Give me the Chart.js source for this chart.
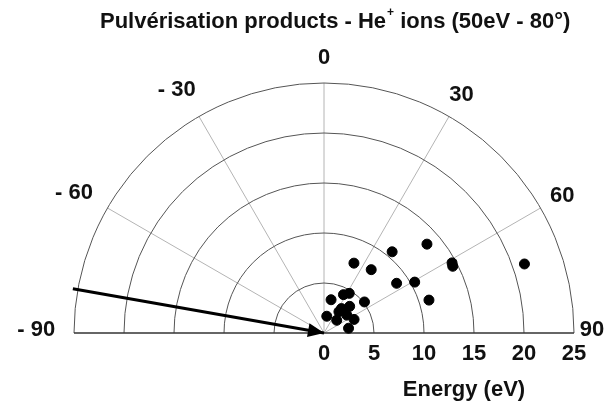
<!DOCTYPE html>
<html lang="fr">
<head>
  <meta charset="UTF-8">
  <title>Pulvérisation products</title>
  <script src="https://cdn.jsdelivr.net/npm/chart.js"></script>
  <style>
    html, body { margin: 0; padding: 0; background: #fff; }
    .chart-box { width: 608px; height: 405px; }
  </style>
</head>
<body>
  <div class="chart-box">
    <canvas id="polarChart"></canvas>
  </div>

  <script>
    // Produits pulvérisés : énergie (eV) et angle d'émission (degrés depuis la normale)
    const energy = [21.2, 13.6, 14.6, 14.5, 10.6, 7.6, 7.9, 8.8, 10.4, 11.0, 5.1,
                    3.4, 4.3, 4.7, 1.7, 2.6, 3.0, 3.7, 3.3, 2.5, 1.8, 2.9];
    const angle = [71.0, 49.2, 61.3, 62.6, 40.0, 23.2, 36.7, 55.6, 60.7, 72.6, 52.5,
                   12.0, 26.9, 32.5, 9.4, 35.0, 35.6, 43.9, 65.7, 79.0, 45.0, 51.9];

    // Faisceau incident He+ (50 eV, 80°)
    const incidentAngle = -80;
    const incidentLength = 25.5;

    // Graduations
    const energyTicks = [0, 5, 10, 15, 20, 25];
    const angleTicks = [-90, -60, -30, 0, 30, 60, 90];
    const energyMax = 25;

    const FONT = '"Liberation Sans", Arial, sans-serif';

    // (r, theta) -> (x, y), theta mesuré depuis la verticale, sens horaire
    function polar(r, deg) {
      const a = deg * Math.PI / 180;
      return { x: r * Math.sin(a), y: r * Math.cos(a) };
    }

    const points = energy.map((e, i) => polar(e, angle[i]));
    const arrowPts = [polar(incidentLength, incidentAngle), { x: 0, y: 0 }];

    // Grille polaire, flèche et textes
    const polarGrid = {
      id: 'polarGrid',
      beforeDatasetsDraw(chart) {
        const { ctx, scales: { x, y } } = chart;
        const cx = x.getPixelForValue(0);
        const cy = y.getPixelForValue(0);
        const px = r => x.getPixelForValue(r) - cx;

        ctx.save();
        // rayons
        ctx.strokeStyle = '#b4b4b4';
        ctx.lineWidth = 1;
        angleTicks.forEach(t => {
          if (Math.abs(t) === 90) return;
          const p = polar(energyMax, t);
          ctx.beginPath();
          ctx.moveTo(cx, cy);
          ctx.lineTo(x.getPixelForValue(p.x), y.getPixelForValue(p.y));
          ctx.stroke();
        });
        // cercles d'énergie
        ctx.strokeStyle = '#555';
        energyTicks.forEach(t => {
          if (t === 0) return;
          ctx.beginPath();
          ctx.arc(cx, cy, px(t), Math.PI, 2 * Math.PI);
          ctx.stroke();
        });
        // ligne de base
        ctx.strokeStyle = '#333';
        ctx.lineWidth = 1.5;
        ctx.beginPath();
        ctx.moveTo(x.getPixelForValue(-energyMax), cy);
        ctx.lineTo(x.getPixelForValue(energyMax), cy);
        ctx.stroke();
        ctx.restore();
      },
      afterDatasetsDraw(chart) {
        const { ctx, scales: { x, y } } = chart;
        const cx = x.getPixelForValue(0);
        const cy = y.getPixelForValue(0);

        ctx.save();
        // pointe de la flèche
        const start = arrowPts[0];
        const sx = x.getPixelForValue(start.x), sy = y.getPixelForValue(start.y);
        const dir = Math.atan2(cy - sy, cx - sx);
        const len = 16, half = 7;
        ctx.fillStyle = '#000';
        ctx.beginPath();
        ctx.moveTo(cx, cy);
        ctx.lineTo(cx - len * Math.cos(dir) - half * Math.sin(dir), cy - len * Math.sin(dir) + half * Math.cos(dir));
        ctx.lineTo(cx - len * Math.cos(dir) + half * Math.sin(dir), cy - len * Math.sin(dir) - half * Math.cos(dir));
        ctx.closePath();
        ctx.fill();

        ctx.fillStyle = '#111';
        ctx.font = 'bold 22px ' + FONT;
        ctx.textBaseline = 'middle';

        // angles
        angleTicks.forEach(t => {
          const digits = String(Math.abs(t));
          let r = t < 0 ? 28.1 : 27.5;
          if (t === 90) r = 26.8;
          const p = polar(r, t);
          let lx = x.getPixelForValue(p.x);
          let ly = y.getPixelForValue(p.y);
          if (Math.abs(t) === 90) ly -= 3;
          if (t < 0) {
            ctx.textAlign = 'right';
            ctx.fillText('- ' + digits, lx + ctx.measureText(digits).width / 2, ly);
          } else {
            ctx.textAlign = 'center';
            ctx.fillText(digits, lx, ly);
          }
        });

        // énergies
        ctx.textAlign = 'center';
        energyTicks.forEach(t => {
          ctx.fillText(String(t), x.getPixelForValue(t), cy + 21);
        });
        ctx.fillText('Energy (eV)', x.getPixelForValue(14), cy + 57);

        // titre
        const head = 'Pulvérisation products - He';
        const rest = ' ions (50eV - 80°)';
        const tx = 100;
        ctx.textAlign = 'left';
        ctx.font = 'bold 22px ' + FONT;
        ctx.fillText(head, tx, 22);
        const w1 = ctx.measureText(head).width;
        ctx.font = 'bold 12px ' + FONT;
        ctx.fillText('+', tx + w1 + 1, 13);
        ctx.font = 'bold 22px ' + FONT;
        ctx.fillText(rest, tx + w1 + 8, 22);
        ctx.restore();
      }
    };

    new Chart(document.getElementById('polarChart'), {
      type: 'scatter',
      data: {
        datasets: [
          {
            label: 'Produits',
            data: points,
            backgroundColor: '#000',
            borderColor: '#000',
            pointRadius: 5,
            pointHoverRadius: 5,
            clip: false
          },
          {
            type: 'line',
            label: 'He+',
            data: arrowPts,
            borderColor: '#000',
            borderWidth: 3,
            pointRadius: 0,
            clip: false
          }
        ]
      },
      options: {
        responsive: true,
        maintainAspectRatio: false,
        animation: false,
        layout: { padding: { left: 74, right: 34, top: 83, bottom: 72 } },
        plugins: {
          legend: { display: false },
          tooltip: { enabled: false }
        },
        scales: {
          x: { type: 'linear', min: -energyMax, max: energyMax, display: false },
          y: { type: 'linear', min: 0, max: energyMax, display: false }
        }
      },
      plugins: [polarGrid]
    });
  </script>
</body>
</html>
